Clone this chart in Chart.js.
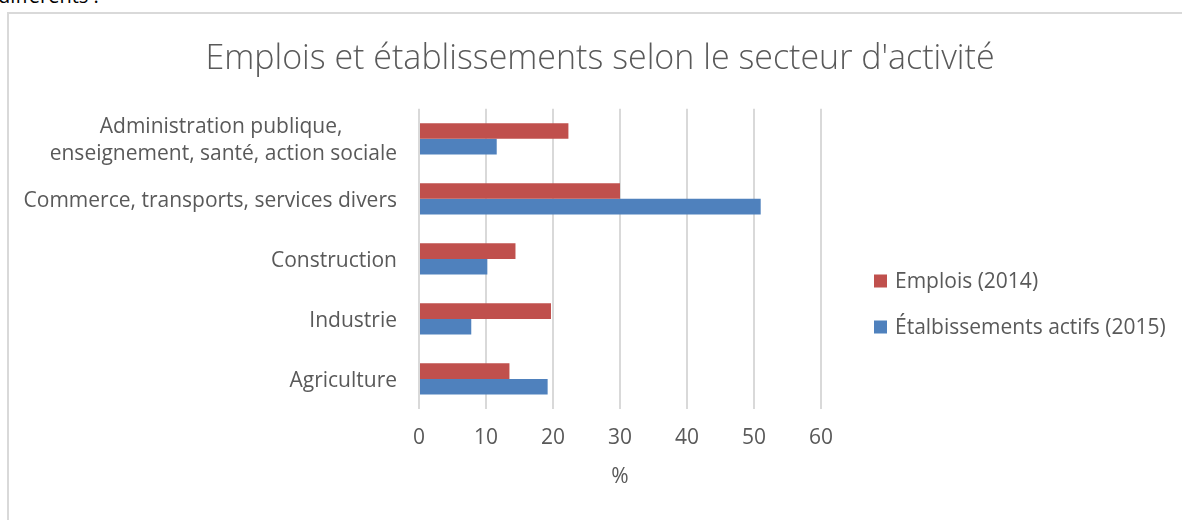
<!DOCTYPE html>
<html><head><meta charset="utf-8">
<script src="https://cdn.jsdelivr.net/npm/chart.js@4"></script>
<style>
html,body{margin:0;padding:0;background:#fff;overflow:hidden;width:1182px;height:520px;}
#pre{position:absolute;left:-2px;top:-16px;font:20px 'Open Sans',sans-serif;line-height:24px;color:#000;white-space:nowrap;}
#frame{position:absolute;left:7px;top:12px;width:1300px;height:600px;border:2px solid #d9d9d9;box-sizing:border-box;}
#wrap{position:absolute;left:0;top:0;width:1182px;height:520px;}
</style></head><body>
<div id="pre">différents :</div>
<div id="frame"></div>
<div id="wrap"><canvas id="c" width="1182" height="520"></canvas></div>
<script>
// ---- data ----
const categories = [['Administration publique,', 'enseignement, santé, action sociale'], 'Commerce, transports, services divers', 'Construction', 'Industrie', 'Agriculture'];
const seriesNames = ['Emplois (2014)', 'Étalbissements actifs (2015)'];
const emplois2014 = [22.3, 30.0, 14.4, 19.7, 13.5];
const etablissements2015 = [11.6, 51.0, 10.2, 7.8, 19.2];
const xTicks = [0, 10, 20, 30, 40, 50, 60];
const titleText = "Emplois et établissements selon le secteur d'activité";
const xAxisTitle = '%';

// ---- style ----
const FONT = "'Open Sans', sans-serif";
const TXT = '#595959';
const LABEL_SIZE = 21;
const LEGEND_SIZE = 21;

const measureCtx = document.createElement('canvas').getContext('2d');
measureCtx.font = LABEL_SIZE + "px 'Open Sans'";
function centerLines(lines) {
  if (!Array.isArray(lines)) return lines;
  const widths = lines.map(l => measureCtx.measureText(l).width);
  const maxW = Math.max(...widths);
  const sp = measureCtx.measureText(' ').width;
  return lines.map((l, i) => l + ' '.repeat(Math.round((maxW - widths[i]) / 2 / sp)));
}

const sideLegend = {
  id: 'sideLegend',
  afterDraw(chart) {
    const ctx = chart.ctx;
    const x0 = chart.chartArea.right + 53;
    ctx.save();
    ctx.font = LEGEND_SIZE + 'px ' + FONT;
    ctx.textBaseline = 'middle';
    ctx.textAlign = 'left';
    chart.data.datasets.forEach((ds, i) => {
      const y = 281 + i * 46;
      ctx.fillStyle = ds.backgroundColor;
      ctx.fillRect(x0, y - 6.5, 13, 13);
      ctx.fillStyle = TXT;
      ctx.fillText(ds.label, x0 + 21, y + 1);
    });
    ctx.restore();
  }
};

new Chart(document.getElementById('c'), {
  type: 'bar',
  data: {
    labels: categories,
    datasets: [
      { label: seriesNames[0], data: emplois2014, backgroundColor: '#c0504d', barPercentage: 1, categoryPercentage: 0.52 },
      { label: seriesNames[1], data: etablissements2015, backgroundColor: '#4f81bd', barPercentage: 1, categoryPercentage: 0.52 }
    ]
  },
  options: {
    indexAxis: 'y',
    responsive: false,
    animation: false,
    devicePixelRatio: 1,
    layout: { padding: { left: 18, right: 0, top: 0, bottom: 0 } },
    plugins: {
      legend: { display: false },
      tooltip: { enabled: false },
      title: {
        display: true,
        text: titleText,
        color: TXT,
        font: { family: FONT, size: 34, weight: '300', lineHeight: 1.2 },
        padding: { top: 39, bottom: 29 }
      }
    },
    scales: {
      x: {
        type: 'linear',
        min: 0, max: 60,
        afterBuildTicks: s => { s.ticks = xTicks.map(v => ({ value: v })); },
        afterFit: s => { s.height = 111; },
        grid: { color: '#d9d9d9', lineWidth: 2, drawTicks: false },
        border: { display: false },
        ticks: { color: TXT, font: { family: FONT, size: 21 }, padding: 16 },
        title: { display: true, text: xAxisTitle, color: TXT, font: { family: FONT, size: 21, lineHeight: 1.2 }, padding: { top: 0, bottom: 30 } }
      },
      y: {
        type: 'category',
        afterFit: s => { s.width = 401; },
        grid: { display: false, drawTicks: false },
        border: { display: false },
        ticks: {
          color: TXT,
          autoSkip: false,
          font: { family: FONT, size: LABEL_SIZE, lineHeight: 1.3 },
          padding: 22,
          labelOffset: 2,
          callback: function (v) { return centerLines(this.getLabelForValue(v)); }
        }
      },
      y2: {
        type: 'linear',
        position: 'right',
        afterFit: s => { s.width = 361; },
        grid: { display: false, drawTicks: false },
        border: { display: false },
        ticks: { display: false }
      }
    }
  },
  plugins: [sideLegend]
});
</script>
</body></html>
